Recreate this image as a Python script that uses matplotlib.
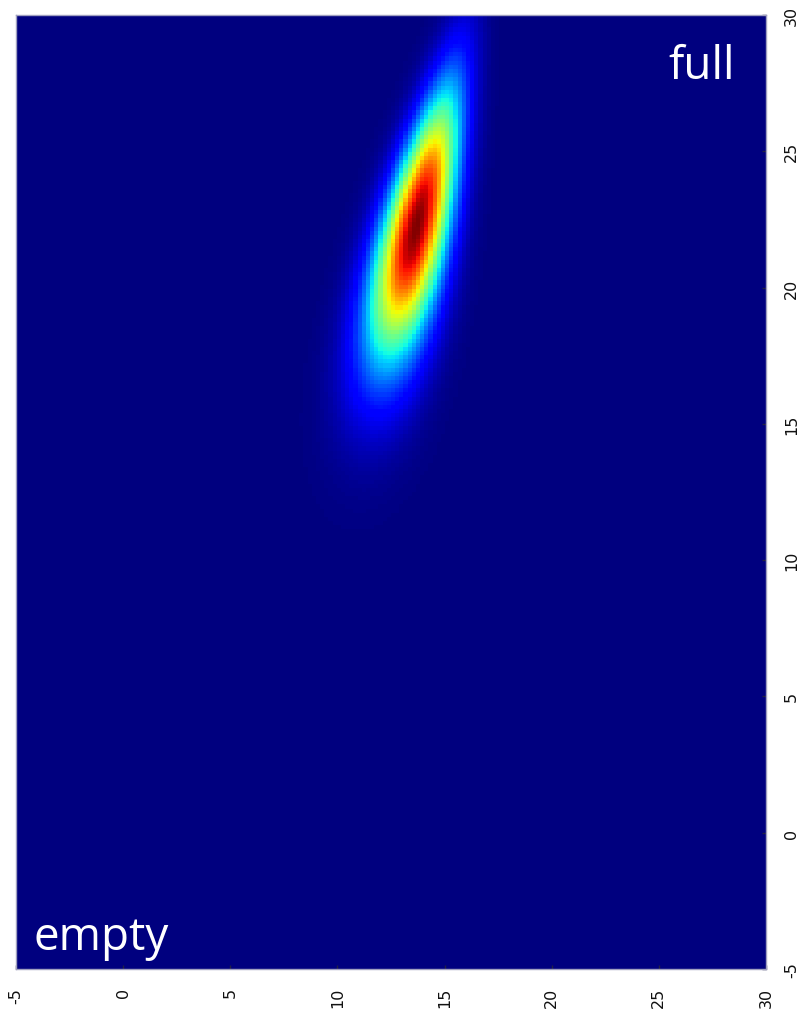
import numpy as np
import matplotlib
matplotlib.use("Agg")
import matplotlib.pyplot as plt

# Axis ranges and tick labels
x_range = [-5, 30]
y_range = [-5, 30]
x_ticks = [-5, 0, 5, 10, 15, 20, 25, 30]
y_ticks = [-5, 0, 5, 10, 15, 20, 25, 30]

# Elongated density blob: centre, spreads and tilt of the major axis
center = [13.7, 22.3]
sigma_major = 3.5
sigma_minor = 1.0
tilt_deg = 73.0
# the minor spread grows towards the lower tail
minor_growth = 0.04

# Grid resolution of the rendered field
n_cols = 180
n_rows = 230

xs = np.linspace(x_range[0], x_range[1], n_cols)
ys = np.linspace(y_range[0], y_range[1], n_rows)
X, Y = np.meshgrid(xs, ys)
th = np.deg2rad(tilt_deg)
dx = X - center[0]
dy = Y - center[1]
u = dx * np.cos(th) + dy * np.sin(th)
v = -dx * np.sin(th) + dy * np.cos(th)
s_v = sigma_minor * np.clip(1 - minor_growth * u, 0.6, None)
Z = np.exp(-0.5 * ((u / sigma_major) ** 2 + (v / s_v) ** 2))

fig = plt.figure(figsize=(8.01, 10.12), dpi=100)
ax = fig.add_axes([16 / 801, 1 - 970 / 1012, 750 / 801, 954 / 1012])
ax.imshow(Z, cmap="jet", origin="lower", aspect="auto", interpolation="nearest",
          extent=[x_range[0], x_range[1], y_range[0], y_range[1]], vmin=0, vmax=1)
ax.set_xlim(x_range)
ax.set_ylim(y_range)
ax.set_xticks(x_ticks)
ax.set_yticks(y_ticks)
ax.set_xticklabels([str(t) for t in x_ticks], rotation=90, va="top", ha="center")
ax.yaxis.tick_right()
ax.set_yticklabels([str(t) for t in y_ticks], rotation=90, va="center", ha="left")
ax.tick_params(axis="both", direction="in", length=3, width=1, color="#222244",
               labelsize=11.5, labelcolor="#111111", pad=13)
for s in ax.spines.values():
    s.set_color("#a0a0c0")
    s.set_linewidth(1)

ax.text(735 / 801, 1 - 44 / 1012, "full", transform=fig.transFigure, color="white",
        fontsize=33, family="Open Sans", ha="right", va="top")
ax.text(33 / 801, 1 - 950 / 1012, "empty", transform=fig.transFigure, color="white",
        fontsize=33, family="Open Sans", ha="left", va="baseline")

fig.savefig("out.png", dpi=100)
